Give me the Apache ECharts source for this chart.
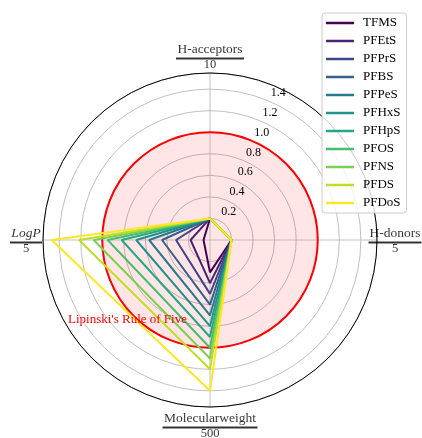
<!DOCTYPE html>
<html><head><meta charset="utf-8">
<script src="https://cdn.jsdelivr.net/npm/echarts@6/dist/echarts.min.js"></script>
<style>html,body{margin:0;padding:0;background:#fff}#c{width:422px;height:438px}</style>
</head><body><div id="c"></div>
<script>
// ---- data ----
const compounds = ['TFMS','PFEtS','PFPrS','PFBS','PFPeS','PFHxS','PFHpS','PFOS','PFNS','PFDS','PFDoS'];
const hDonors    = [0.2,0.2,0.2,0.2,0.2,0.2,0.2,0.2,0.2,0.2,0.2];
const hAcceptors = [0.2,0.2,0.2,0.2,0.2,0.2,0.2,0.2,0.2,0.2,0.2];
const logP       = [0.06,0.18,0.315,0.445,0.565,0.685,0.82,0.95,1.08,1.215,1.47];
const molWeight  = [0.30,0.40,0.50,0.60,0.70,0.80,0.90,1.00,1.10,1.20,1.40];
const axisNames  = ['H-donors','H-acceptors','LogP','Molecularweight'];
const axisAngles = [0,90,180,270];
const axisScale  = ['5','10','5','500'];
const ruleValue  = 1.0;
const ruleLabel  = "Lipinski's Rule of Five";
const rMax = 1.55;
const colors = ['#440154','#482475','#414487','#355f8d','#2a788e','#21918c','#22a884','#44bf70','#7ad151','#bddf26','#fde725'];

// ---- chart ----
const FONT = 'Liberation Serif';
const NAME_SIZE = 13.5, NUM_SIZE = 12.5, LABEL_GAP = 17.5;
const R = 167, C = [210, 240];
const chart = echarts.init(document.getElementById('c'), null, {renderer:'canvas'});
const bandColors = [];
for (let v = 0; v < rMax - 1e-9; v += 0.2) bandColors.push(v < ruleValue - 1e-9 ? 'rgba(255,0,0,0.1)' : 'rgba(0,0,0,0)');

const ctx = document.createElement('canvas').getContext('2d');
function textW(t, size, italic) {
  ctx.font = (italic ? 'italic ' : '') + size + 'px "' + FONT + '"';
  return ctx.measureText(t).width;
}

const axisLabelData = axisNames.map(function (name, i) {
  const italic = name === 'LogP';
  const w = Math.ceil(Math.max(textW(name, NAME_SIZE, italic), textW(axisScale[i], NUM_SIZE, false))) + 2;
  const a = axisAngles[i] * Math.PI / 180;
  const rich = {
    n: {fontSize: NAME_SIZE, fontFamily: FONT, fontStyle: italic ? 'italic' : 'normal', color: '#000', lineHeight: 16, align: 'center'},
    hr: {width: w, height: 2, backgroundColor: '#000', lineHeight: 2, align: 'center'},
    v: {fontSize: NUM_SIZE, fontFamily: FONT, color: '#000', lineHeight: 11, align: 'center'}
  };
  return {
    value: [rMax, axisAngles[i]],
    label: {
      show: true, position: 'inside', align: 'center', verticalAlign: 'middle',
      offset: [Math.round(Math.cos(a) * LABEL_GAP), Math.round(-Math.sin(a) * LABEL_GAP)],
      formatter: '{n|' + name + '}\n{hr|}\n{v|' + axisScale[i] + '}',
      rich: rich
    }
  };
});

const series = compounds.map(function (name, i) {
  return {
    name: name, type: 'line', coordinateSystem: 'polar', polarIndex: 0, symbol: 'none',
    color: colors[i], lineStyle: {width: 2, color: colors[i]},
    data: [[hAcceptors[i], axisAngles[1]], [logP[i], axisAngles[2]], [molWeight[i], axisAngles[3]],
           [hDonors[i], 360], [hAcceptors[i], axisAngles[1]]]
  };
});
series.push({
  name: 'axis-names', type: 'scatter', coordinateSystem: 'polar', polarIndex: 0,
  symbolSize: 0, silent: true, z: 5, data: axisLabelData
});

const option = {
  backgroundColor: '#fff',
  animation: false,
  textStyle: {fontFamily: FONT},
  title: {text: ruleLabel, left: 68, top: 313, padding: 0,
    textStyle: {color: 'red', fontSize: 13, fontWeight: 'normal', fontFamily: FONT}},
  legend: {
    orient: 'vertical', left: 322, top: 13, itemWidth: 28, itemHeight: 2.5, itemGap: 4, icon: 'rect',
    padding: [3, 6, 3, 4], borderColor: '#cccccc', borderWidth: 1, borderRadius: 3,
    backgroundColor: 'rgba(255,255,255,0.8)',
    textStyle: {fontSize: 13, fontFamily: FONT, color: '#000', lineHeight: 14, padding: [0,0,0,4]},
    data: compounds
  },
  polar: [
    {center: C, radius: R},
    {center: C, radius: R * ruleValue / rMax},
    {center: C, radius: R}
  ],
  angleAxis: [
    {polarIndex: 0, type: 'value', min: 0, max: 360, interval: 90, startAngle: 0, clockwise: false, z: 1,
      axisLine: {lineStyle: {color: '#000', width: 1}}, axisTick: {show: false},
      splitLine: {lineStyle: {color: '#b0b0b0', width: 0.8}}, axisLabel: {show: false}},
    {polarIndex: 1, type: 'value', min: 0, max: 360, z: 3,
      axisLine: {lineStyle: {color: '#ff0000', width: 2}}, axisTick: {show: false},
      axisLabel: {show: false}, splitLine: {show: false}},
    {polarIndex: 2, type: 'value', min: 0, max: 360, startAngle: 67.5, clockwise: false,
      axisLine: {show: false}, axisTick: {show: false}, axisLabel: {show: false}, splitLine: {show: false}}
  ],
  radiusAxis: [
    {polarIndex: 0, type: 'value', min: 0, max: rMax, interval: 0.2,
      axisLine: {show: false}, axisTick: {show: false}, axisLabel: {show: false},
      splitLine: {lineStyle: {color: '#b0b0b0', width: 0.8}},
      splitArea: {show: true, areaStyle: {color: bandColors}}},
    {polarIndex: 1, type: 'value', min: 0, max: 1,
      axisLine: {show: false}, axisTick: {show: false}, axisLabel: {show: false}, splitLine: {show: false}},
    {polarIndex: 2, type: 'value', min: 0, max: rMax, interval: 0.2, z: 4,
      axisLine: {show: false}, axisTick: {show: false}, splitLine: {show: false},
      axisLabel: {inside: true, margin: 0, align: 'left', verticalAlign: 'bottom', padding: [0,0,2,3],
        fontSize: 12, fontFamily: FONT, color: '#000',
        formatter: function (v) { return (v < 0.1 || v > 1.45) ? '' : v.toFixed(1); }}}
  ],
  series: series
};
chart.setOption(option);
</script></body></html>
